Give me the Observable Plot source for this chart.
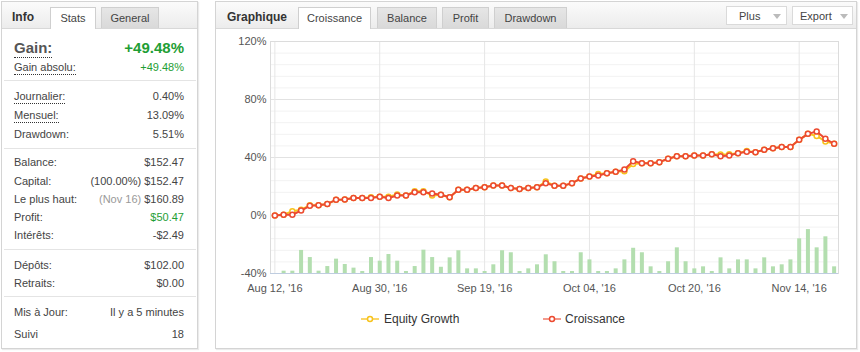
<!DOCTYPE html>
<html><head><meta charset="utf-8">
<script src="https://cdn.jsdelivr.net/npm/d3@7"></script>
<script src="https://cdn.jsdelivr.net/npm/@observablehq/plot@0.6"></script>
<style>
html,body{margin:0;padding:0;background:#fff;width:860px;height:352px;overflow:hidden;font-family:"Liberation Sans",Arial,sans-serif;}
.abs{position:absolute;box-sizing:border-box;}
.panel{border:1px solid #d4d4d4;background:#fff;box-shadow:1px 1px 1px rgba(0,0,0,0.08);}
.hdr{background:linear-gradient(#fbfbfb,#ececec);border-bottom:1px solid #d8d8d8;}
.tab{top:7px;height:21px;line-height:20px;text-align:center;font-size:11px;color:#444;border:1px solid #cfcfcf;border-bottom:none;}
.tab.on{background:#fff;height:22px;}
.tab.off{background:linear-gradient(#e6e6e6,#d9d9d9);}
.ttl{font-weight:bold;font-size:12px;color:#333;line-height:14px;}
.row{left:14px;width:170px;height:18px;line-height:18px;font-size:11px;color:#444;display:flex;justify-content:space-between;}
.row .l span{border-bottom:1px dotted #333;padding-bottom:1px;}
.g{color:#1e9e34;}
.m{color:#999;}
.sep{left:4px;width:192px;height:1px;background:#e4e4e4;}
.btn{top:6px;height:19px;line-height:18px;font-size:11px;color:#444;background:#fff;border:1px solid #dadada;}
.btn .t{position:absolute;top:0;}
.tri{position:absolute;top:7px;width:0;height:0;border-left:4px solid transparent;border-right:4px solid transparent;border-top:5px solid #bbb;}
.leg{top:311px;height:16px;line-height:16px;font-size:12px;color:#333;display:flex;align-items:center;}
</style>
</head><body>
<!-- left panel -->
<div class="abs panel" style="left:1px;top:1px;width:197px;height:348px;"></div>
<div class="abs hdr" style="left:2px;top:2px;width:195px;height:27px;"></div>
<div class="abs ttl" style="left:12px;top:10px;">Info</div>
<div class="abs tab on" style="left:50px;width:46px;">Stats</div>
<div class="abs tab off" style="left:101px;width:58px;">General</div>

<div class="abs row" style="top:38px;height:20px;line-height:20px;font-size:15px;font-weight:bold;"><div class="l"><span style="color:#555;">Gain:</span></div><div class="g">+49.48%</div></div>
<div class="abs row" style="top:58px;"><div class="l"><span>Gain absolu:</span></div><div class="g">+49.48%</div></div>
<div class="abs sep" style="top:80px;"></div>
<div class="abs row" style="top:87px;"><div class="l"><span>Journalier:</span></div><div>0.40%</div></div>
<div class="abs row" style="top:106px;"><div class="l"><span>Mensuel:</span></div><div>13.09%</div></div>
<div class="abs row" style="top:125px;"><div>Drawdown:</div><div>5.51%</div></div>
<div class="abs sep" style="top:148px;"></div>
<div class="abs row" style="top:153px;"><div>Balance:</div><div>$152.47</div></div>
<div class="abs row" style="top:172px;"><div>Capital:</div><div>(100.00%) $152.47</div></div>
<div class="abs row" style="top:190px;"><div>Le plus haut:</div><div><span class="m">(Nov 16)</span> $160.89</div></div>
<div class="abs row" style="top:208px;"><div>Profit:</div><div class="g">$50.47</div></div>
<div class="abs row" style="top:226px;"><div>Intérêts:</div><div>-$2.49</div></div>
<div class="abs sep" style="top:249px;"></div>
<div class="abs row" style="top:256px;"><div>Dépôts:</div><div>$102.00</div></div>
<div class="abs row" style="top:274px;"><div>Retraits:</div><div>$0.00</div></div>
<div class="abs sep" style="top:296px;"></div>
<div class="abs row" style="top:303px;"><div>Mis à Jour:</div><div>Il y a 5 minutes</div></div>
<div class="abs row" style="top:325px;"><div>Suivi</div><div>18</div></div>

<!-- right panel -->
<div class="abs panel" style="left:215px;top:1px;width:642px;height:348px;"></div>
<div class="abs hdr" style="left:216px;top:2px;width:640px;height:27px;"></div>
<div class="abs ttl" style="left:227px;top:10px;">Graphique</div>
<div class="abs tab on" style="left:298px;width:73px;">Croissance</div>
<div class="abs tab off" style="left:377px;width:60px;">Balance</div>
<div class="abs tab off" style="left:442px;width:47px;">Profit</div>
<div class="abs tab off" style="left:494px;width:73px;">Drawdown</div>
<div class="abs btn" style="left:726px;width:61px;"><span class="t" style="left:12px;">Plus</span><span class="tri" style="left:46px;"></span></div>
<div class="abs btn" style="left:792px;width:61px;"><span class="t" style="left:7px;">Export</span><span class="tri" style="left:47px;"></span></div>

<div id="chart" class="abs" style="left:215px;top:30px;"></div>

<div class="abs leg" style="left:360px;"><svg width="20" height="10"><line x1="1" y1="5" x2="19" y2="5" stroke="#fbd66a" stroke-width="2"/><circle cx="10" cy="5" r="2.5" fill="#fff" stroke="#f7c31d" stroke-width="1.5"/></svg><span style="margin-left:4px;">Equity Growth</span></div>
<div class="abs leg" style="left:542px;"><svg width="20" height="10"><line x1="1" y1="5" x2="19" y2="5" stroke="#f39a8c" stroke-width="2"/><circle cx="10" cy="5" r="2.5" fill="#fff" stroke="#ec4a30" stroke-width="1.5"/></svg><span style="margin-left:3px;">Croissance</span></div>

<script>
// Croissance (growth, %) per trading day
const croissance = [0,0.5,0.5,3.4,6.7,7,8,10.8,11,12,12,12,13,12,13.8,13.8,16,16,15.2,14.3,12.6,17.7,17.7,18.9,19.5,20.7,20.7,18.9,18.2,18.9,19.5,22.3,20.5,20.5,22.3,25.5,26.9,27.6,29.2,30.1,31.7,37.5,36.1,36.1,36.8,39.1,40.9,40.9,41.4,41.4,42.3,40.9,41.4,43,43.9,43.7,45.3,46.4,47.3,47.3,52.2,56.3,57.9,52.9,49.48];
// Equity Growth (%)
const equity = [0,0.5,3,4,7,7,8,10.8,11,12,12,12.6,13,13,14.5,13.8,16.8,16.8,13.8,14.3,12.6,17.7,17.7,18.9,19.5,20.7,20.7,18.9,18.2,18.9,19.5,23.4,20.5,20.5,22.3,25.5,26.9,28.7,29.2,30.1,30.6,35.6,36.1,36.1,36.8,39.1,40.9,40.9,41.4,41.4,42.3,42,42.2,43,44.5,43.7,45.3,46.4,47.3,47.3,52.2,56.3,54.9,51.1,49.48];
// Daily bars (height, in % units above the -40% baseline)
const bars = [0,1.6,1.6,15.9,11,1.6,4.8,9.9,6.2,3.7,1.4,11,8.5,13.1,8.5,1.4,4.8,16.1,11,4.3,10.8,15.7,3.2,3.2,1.4,6,15.7,14.3,1.4,3.2,6,12.9,8.1,1.4,1.4,14.3,9.4,1.4,1.4,3.2,9.4,17.4,14.3,4.6,1.4,8.1,17.7,8.1,3.2,4.6,1.4,10.8,3.2,9.4,9.4,3.2,10.8,4.6,6,9.4,23.9,30.3,17.7,25.3,4.6];
// x tick labels (trading-day index -> label)
const tickIdx = [0,12,24,36,48,60];
const tickLabels = ["Aug 12, '16","Aug 30, '16","Sep 19, '16","Oct 04, '16","Oct 20, '16","Nov 14, '16"];
const yTicks = [-40,0,40,80,120];

const data = croissance.map((c,i)=>({i, c, e: equity[i], b: bars[i]}));
const base = yTicks[0];
const minorY = d3.range(yTicks[0], yTicks[yTicks.length-1]+1, 8);

const chart = Plot.plot({
  width: 642, height: 290,
  marginLeft: 55, marginRight: 19, marginTop: 11, marginBottom: 47,
  style: {fontFamily: "Liberation Sans, Arial, sans-serif", fontSize: "11px", background: "transparent"},
  x: {domain: [-0.5, croissance.length - 0.5], label: null},
  y: {domain: [yTicks[0], yTicks[yTicks.length-1]], label: null},
  marks: [
    Plot.ruleY(minorY, {stroke: "#f2f2f2"}),
    Plot.ruleY(yTicks, {stroke: "#e2e2e2"}),
    Plot.ruleX(tickIdx, {stroke: "#e6e6e6"}),
    Plot.frame({stroke: "#dcdcdc"}),
    Plot.ruleX(data, {x: "i", y1: base, y2: d => base + d.b, stroke: "#b3deaf", strokeWidth: 4, filter: d => d.b > 0}),
    Plot.ruleY([base], {stroke: "#bfcde0"}),
    Plot.line(data, {x: "i", y: "e", stroke: "#f7c31d", strokeWidth: 2}),
    Plot.dot(data, {x: "i", y: "e", r: 2.5, fill: "#fff", stroke: "#f7c31d", strokeWidth: 1.5}),
    Plot.line(data, {x: "i", y: "c", stroke: "#ec4a30", strokeWidth: 2}),
    Plot.dot(data, {x: "i", y: "c", r: 2.5, fill: "#fff", stroke: "#ec4a30", strokeWidth: 1.5}),
    Plot.axisY(yTicks, {tickSize: 0, tickPadding: 4, tickFormat: d => d + "%", color: "#555", fontSize: 11, label: null}),
    Plot.axisX(tickIdx, {tickSize: 0, tickPadding: 11, tickFormat: d => tickLabels[tickIdx.indexOf(d)], color: "#555", fontSize: 11, label: null})
  ]
});
document.getElementById("chart").appendChild(chart);
</script>
</body></html>
